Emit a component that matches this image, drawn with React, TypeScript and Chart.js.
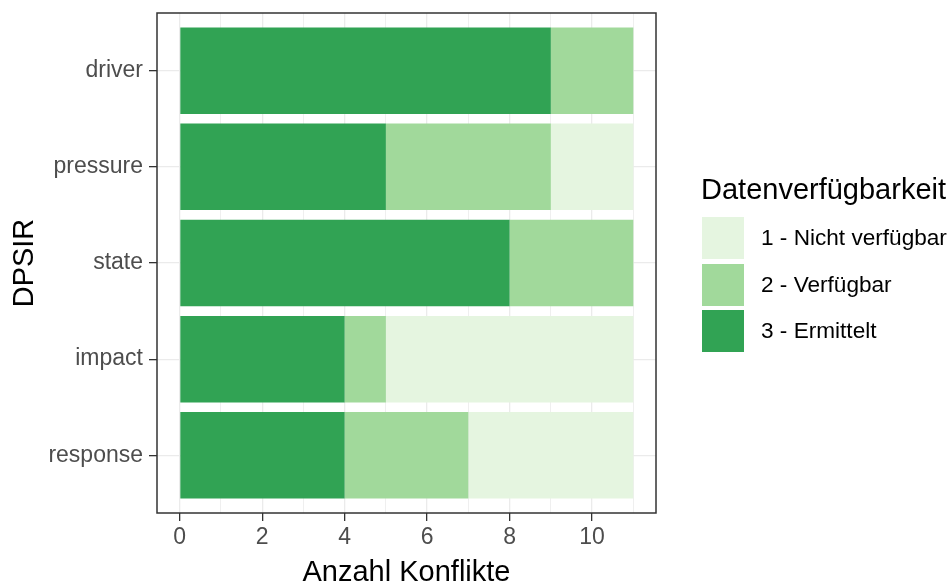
import { useEffect, useRef } from 'react';
import { Chart, registerables } from 'chart.js';

Chart.register(...registerables);

const categories = ['driver', 'pressure', 'state', 'impact', 'response'];
const ermittelt = [9, 5, 8, 4, 4];
const verfuegbar = [2, 4, 3, 1, 3];
const nichtVerfuegbar = [0, 2, 0, 6, 4];
const xGridValues = [0, 1, 2, 3, 4, 5, 6, 7, 8, 9, 10, 11];
const xLabelValues = [0, 2, 4, 6, 8, 10];
const legendTitle = 'Datenverfügbarkeit';
const legendNames = ['1 - Nicht verfügbar', '2 - Verfügbar', '3 - Ermittelt'];
const legendColors = ['#E5F5E0', '#A1D99B', '#31A354'];

const FONT = '"Liberation Sans", Arial, sans-serif';

const panelBorder = {
  id: 'panelBorder',
  afterDraw(chart: any) {
    const { ctx, chartArea: a } = chart;
    ctx.save();
    ctx.strokeStyle = '#333333';
    ctx.lineWidth = 1.5;
    ctx.strokeRect(a.left, a.top, a.right - a.left, a.bottom - a.top);
    ctx.restore();
  },
};

export default function App() {
  const ref = useRef<HTMLCanvasElement | null>(null);

  useEffect(() => {
    document.body.style.margin = '0';
    const n = categories.length;
    const toPoints = (vals: number[]) => categories.map((_, i) => ({ x: vals[i], y: n - i }));
    const chart = new Chart(ref.current as HTMLCanvasElement, {
      type: 'bar',
      data: {
        datasets: [
          { label: legendNames[2], data: toPoints(ermittelt), backgroundColor: legendColors[2] },
          { label: legendNames[1], data: toPoints(verfuegbar), backgroundColor: legendColors[1] },
          { label: legendNames[0], data: toPoints(nichtVerfuegbar), backgroundColor: legendColors[0] },
        ] as any,
      },
      options: {
        indexAxis: 'y',
        responsive: false,
        animation: false,
        events: [],
        layout: { padding: { left: 0, top: 13, right: 296, bottom: 0 } },
        datasets: { bar: { barPercentage: 0.9, categoryPercentage: 1, borderWidth: 0 } },
        plugins: { legend: { display: false }, tooltip: { enabled: false } },
        scales: {
          x: {
            type: 'linear',
            stacked: true,
            offset: false,
            min: -0.55,
            max: 11.55,
            afterBuildTicks: (scale: any) => {
              scale.ticks = xGridValues.map((v) => ({ value: v }));
            },
            afterFit: (scale: any) => {
              scale.height = 72;
              scale.paddingLeft = 0;
              scale.paddingRight = 0;
            },
            border: { display: false },
            grid: {
              offset: false,
              color: '#EBEBEB',
              lineWidth: (ctx: any) => (xLabelValues.includes(ctx.tick?.value) ? 1.3 : 0.8),
              tickColor: (ctx: any) => (xLabelValues.includes(ctx.tick?.value) ? '#333333' : 'rgba(0,0,0,0)'),
              tickLength: 8,
              tickWidth: 1.3,
            },
            ticks: {
              autoSkip: false,
              maxRotation: 0,
              padding: 3,
              color: '#4D4D4D',
              font: { family: FONT, size: 23 },
              callback: (v: any) => (xLabelValues.includes(Number(v)) ? String(v) : ''),
            },
            title: {
              display: true,
              text: 'Anzahl Konflikte',
              color: '#000000',
              font: { family: FONT, size: 29, lineHeight: 1 },
              padding: { top: 0, bottom: -2 },
            },
          },
          y: {
            type: 'linear',
            stacked: true,
            offset: false,
            min: 0.4,
            max: categories.length + 0.6,
            afterBuildTicks: (scale: any) => {
              scale.ticks = categories.map((_, i) => ({ value: n - i }));
            },
            afterFit: (scale: any) => {
              scale.width = 157;
              scale.paddingTop = 0;
              scale.paddingBottom = 0;
            },
            border: { display: false },
            grid: {
              offset: false,
              color: '#EBEBEB',
              lineWidth: 1.3,
              tickColor: '#333333',
              tickLength: 8,
              tickWidth: 1.3,
            },
            ticks: {
              autoSkip: false,
              padding: 6,
              color: '#4D4D4D',
              font: { family: FONT, size: 23 },
              callback: (v: any) => categories[n - Math.round(Number(v))] ?? '',
            },
            title: {
              display: true,
              text: 'DPSIR',
              color: '#000000',
              font: { family: FONT, size: 29, lineHeight: 1 },
              padding: { top: 10, bottom: 0 },
            },
          },
        },
      } as any,
      plugins: [panelBorder],
    });
    return () => chart.destroy();
  }, []);

  const keyTops = [217, 263.5, 310];

  return (
    <div style={{ position: 'relative', width: 952, height: 585, fontFamily: FONT }}>
      <canvas ref={ref} width={952} height={585} style={{ display: 'block' }} />
      <div
        style={{
          position: 'absolute',
          left: 701,
          top: 175,
          fontSize: 29,
          lineHeight: '29px',
          color: '#000',
          whiteSpace: 'nowrap',
        }}
      >
        {legendTitle}
      </div>
      {legendNames.map((name, i) => (
        <div
          key={name}
          style={{
            position: 'absolute',
            left: 702,
            top: keyTops[i],
            height: 42,
            display: 'flex',
            alignItems: 'center',
            whiteSpace: 'nowrap',
          }}
        >
          <div style={{ width: 42, height: 42, background: legendColors[i] }} />
          <div style={{ marginLeft: 17, fontSize: 22.6, color: '#000' }}>{name}</div>
        </div>
      ))}
    </div>
  );
}
